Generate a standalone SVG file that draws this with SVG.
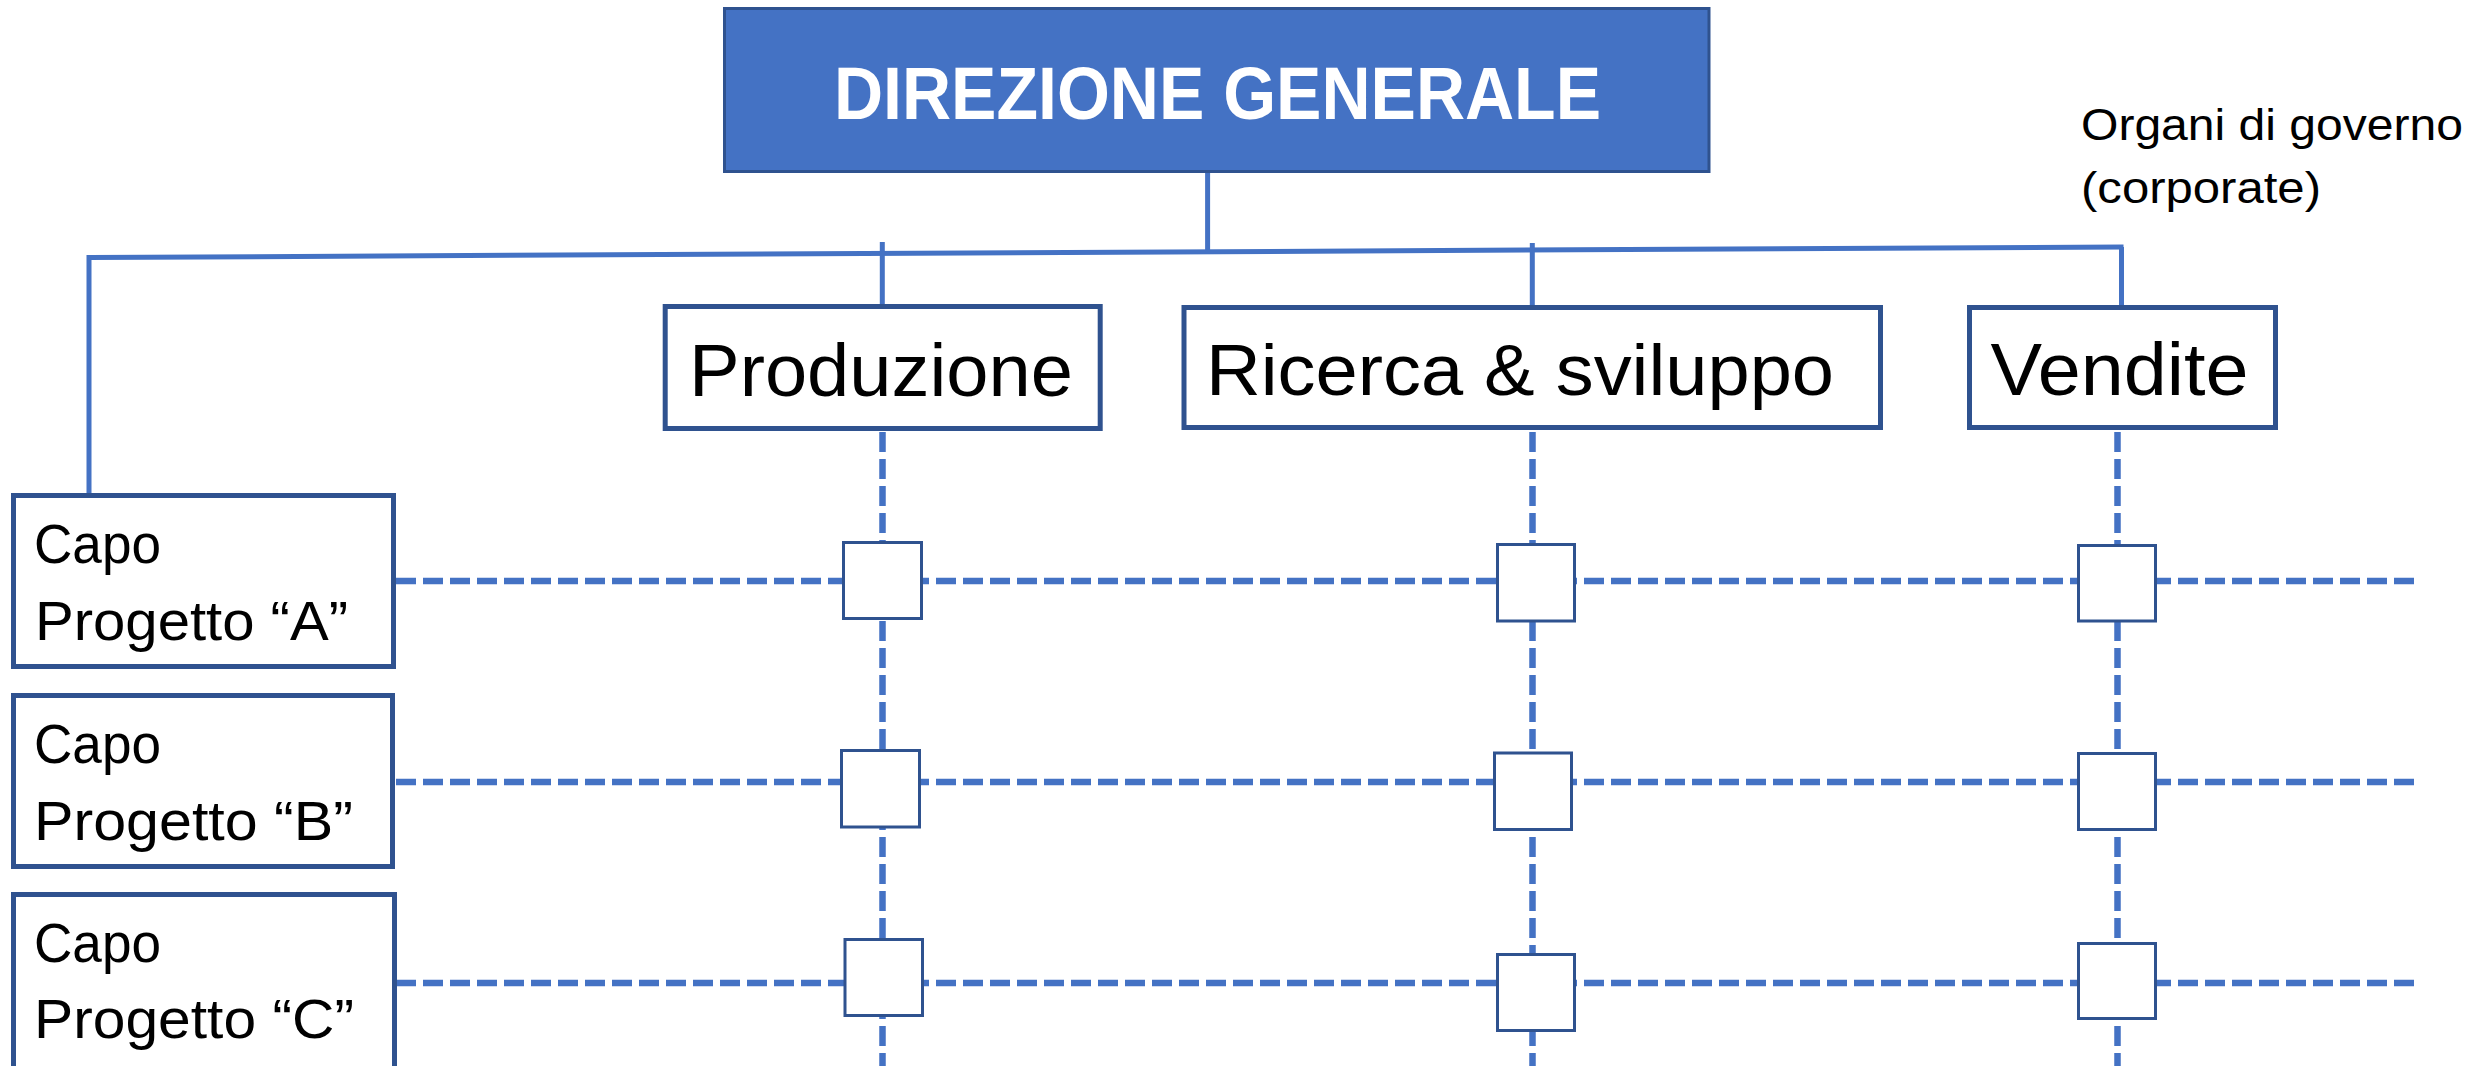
<svg xmlns="http://www.w3.org/2000/svg" width="2479" height="1066" viewBox="0 0 2479 1066">
<style>
.bg{fill:#FFFFFF}
.solid{stroke:#4472C4;stroke-width:5;fill:none}
.dash{stroke:#4472C4;stroke-width:6.5;fill:none;stroke-dasharray:20 7}
.box{fill:#FFFFFF;stroke:#2F528F;stroke-width:5}
.cell{fill:#FFFFFF;stroke:#2F528F;stroke-width:3}
.dg{fill:#4472C4;stroke:#2F528F;stroke-width:3}
.t{font-family:"Liberation Sans",Arial,sans-serif;fill:#000000}
.tw{font-family:"Liberation Sans",Arial,sans-serif;fill:#FFFFFF;font-weight:bold}
</style>
<rect class="bg" x="0" y="0" width="2479" height="1066"/>
<g id="connectors">
  <line class="solid" x1="1207.6" y1="172" x2="1207.6" y2="251"/>
  <line class="solid" x1="89" y1="257.5" x2="2123.5" y2="247"/>
  <line class="solid" x1="89" y1="255" x2="89" y2="494"/>
  <line class="solid" x1="882.3" y1="242" x2="882.3" y2="305"/>
  <line class="solid" x1="1532.3" y1="243" x2="1532.3" y2="306"/>
  <line class="solid" x1="2121.5" y1="247" x2="2121.5" y2="306"/>
  <line class="dash" x1="882.5" y1="432" x2="882.5" y2="1066"/>
  <line class="dash" x1="1532.5" y1="432" x2="1532.5" y2="1066"/>
  <line class="dash" x1="2117.5" y1="432" x2="2117.5" y2="1066"/>
  <line class="dash" x1="396" y1="581" x2="2421" y2="581"/>
  <line class="dash" x1="396" y1="782" x2="2421" y2="782"/>
  <line class="dash" x1="396" y1="983" x2="2421" y2="983"/>
</g>
<g id="direzione-generale">
  <rect class="dg" x="724.5" y="8.5" width="984.5" height="163"/>
  <text class="tw" x="834" y="119" font-size="74" textLength="767" lengthAdjust="spacingAndGlyphs">DIREZIONE GENERALE</text>
</g>
<g id="organi-governo">
  <text class="t" x="2081" y="140" font-size="45" textLength="382" lengthAdjust="spacingAndGlyphs">Organi di governo</text>
  <text class="t" x="2081" y="203" font-size="45" textLength="240" lengthAdjust="spacingAndGlyphs">(corporate)</text>
</g>
<g id="produzione">
  <rect class="box" x="665.2" y="306.5" width="435" height="122"/>
  <text class="t" x="689" y="395.5" font-size="75" textLength="384" lengthAdjust="spacingAndGlyphs">Produzione</text>
</g>
<g id="ricerca-sviluppo">
  <rect class="box" x="1184" y="307.5" width="696.5" height="120"/>
  <text class="t" x="1206" y="395" font-size="73" textLength="628" lengthAdjust="spacingAndGlyphs">Ricerca &amp; sviluppo</text>
</g>
<g id="vendite">
  <rect class="box" x="1969.5" y="307.5" width="306" height="120"/>
  <text class="t" x="1990.5" y="395" font-size="74" textLength="258" lengthAdjust="spacingAndGlyphs">Vendite</text>
</g>
<g id="capo-progetto-a">
  <rect class="box" x="13.5" y="495.5" width="380" height="171"/>
  <text class="t" x="34" y="563" font-size="56" textLength="127" lengthAdjust="spacingAndGlyphs">Capo</text>
  <text class="t" x="35" y="640" font-size="56" textLength="313" lengthAdjust="spacingAndGlyphs">Progetto “A”</text>
</g>
<g id="capo-progetto-b">
  <rect class="box" x="13.5" y="695.5" width="379" height="171"/>
  <text class="t" x="34" y="763" font-size="56" textLength="127" lengthAdjust="spacingAndGlyphs">Capo</text>
  <text class="t" x="34" y="840" font-size="56" textLength="319" lengthAdjust="spacingAndGlyphs">Progetto “B”</text>
</g>
<g id="capo-progetto-c">
  <rect class="box" x="13.5" y="894.5" width="381" height="190"/>
  <text class="t" x="34" y="962" font-size="56" textLength="127" lengthAdjust="spacingAndGlyphs">Capo</text>
  <text class="t" x="34" y="1038" font-size="56" textLength="320" lengthAdjust="spacingAndGlyphs">Progetto “C”</text>
</g>
<g id="cell-prod-a"><rect class="cell" x="843.5" y="542.5" width="78" height="76"/></g>
<g id="cell-prod-b"><rect class="cell" x="841.5" y="750.5" width="78" height="76.5"/></g>
<g id="cell-prod-c"><rect class="cell" x="845" y="939.5" width="77.5" height="76"/></g>
<g id="cell-ric-a"><rect class="cell" x="1497.5" y="544.5" width="77" height="76.5"/></g>
<g id="cell-ric-b"><rect class="cell" x="1494.5" y="753" width="77" height="76.5"/></g>
<g id="cell-ric-c"><rect class="cell" x="1497.5" y="954.5" width="77" height="76"/></g>
<g id="cell-ven-a"><rect class="cell" x="2078.5" y="545.5" width="77" height="75.5"/></g>
<g id="cell-ven-b"><rect class="cell" x="2078.5" y="753.5" width="77" height="76"/></g>
<g id="cell-ven-c"><rect class="cell" x="2078.5" y="943.5" width="77" height="75"/></g>
</svg>
